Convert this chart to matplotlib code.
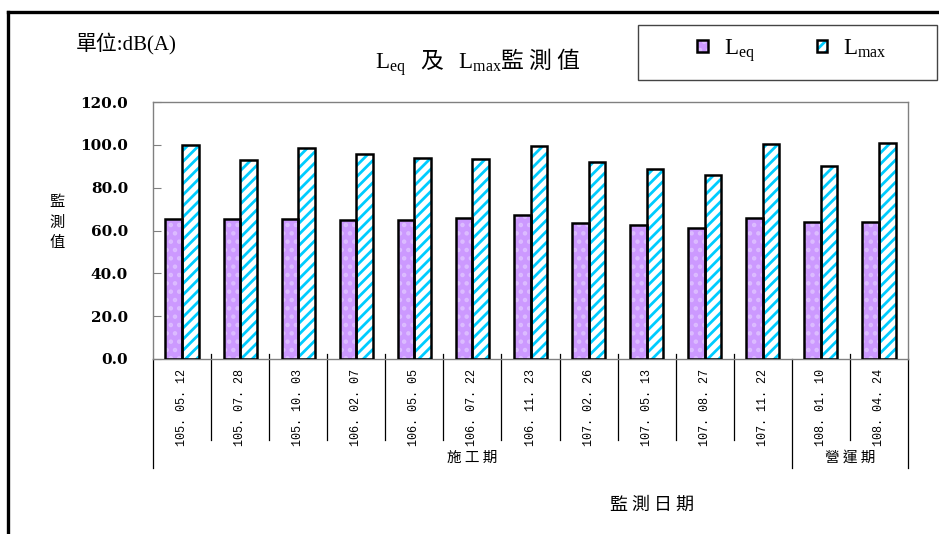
import matplotlib
matplotlib.use("Agg")
import matplotlib.pyplot as plt
import numpy as np
from matplotlib.patches import Rectangle
from matplotlib.legend_handler import HandlerTuple
from matplotlib.lines import Line2D

# ---- data ----
dates = ["105. 05. 12", "105. 07. 28", "105. 10. 03", "106. 02. 07", "106. 05. 05",
         "106. 07. 22", "106. 11. 23", "107. 02. 26", "107. 05. 13", "107. 08. 27",
         "107. 11. 22", "108. 01. 10", "108. 04. 24"]
leq = [65.6, 65.6, 65.6, 65.0, 65.0, 65.7, 67.3, 63.7, 62.7, 61.1, 65.7, 63.8, 64.2]
lmax = [99.8, 92.8, 98.7, 95.8, 93.8, 93.5, 99.5, 91.9, 88.8, 86.0, 100.5, 90.3, 100.8]
phases = ["施工期", "營運期"]
phase_counts = [11, 2]
yticks = [0, 20, 40, 60, 80, 100, 120]

plt.rcParams['mathtext.fontset'] = 'custom'
plt.rcParams['mathtext.rm'] = 'Liberation Serif'
plt.rcParams['mathtext.it'] = 'Liberation Serif:italic'
plt.rcParams['hatch.linewidth'] = 2.0

W, H = 939, 534
fig = plt.figure(figsize=(W / 100, H / 100), dpi=100)

def fx(px):
    return px / W

def fy(py):
    return 1 - py / H

ax = fig.add_axes([fx(153), fy(359), fx(908) - fx(153), fy(102) - fy(359)])

x = np.arange(len(dates))
w = 0.285
c_leq = '#CC99FF'
c_max = '#00CCFF'
c_dot = '#DCBCFF'

ax.bar(x - w / 2, leq, w, facecolor=c_leq, edgecolor=c_dot, hatch='..', linewidth=0, zorder=2)
ax.bar(x - w / 2, leq, w, fill=False, edgecolor='black', linewidth=1.8, zorder=3)
ax.bar(x + w / 2, lmax, w, facecolor='white', edgecolor=c_max, hatch='///', linewidth=0, zorder=2)
ax.bar(x + w / 2, lmax, w, fill=False, edgecolor='black', linewidth=1.8, zorder=3)

ax.set_xlim(-0.5, len(dates) - 0.5)
ax.set_ylim(0, 120)
ax.set_yticks(yticks)
ax.set_yticklabels([f"{v:.1f}" for v in yticks], family='DejaVu Serif', fontweight='bold', fontsize=11)
ax.tick_params(axis='y', direction='in', length=6, color='#808080', pad=18)
ax.set_xticks(x)
ax.set_xticklabels(dates, rotation=90, va='top', ha='center', family='Liberation Mono', fontsize=8.5)
ax.tick_params(axis='x', length=0, pad=7)
for s in ax.spines.values():
    s.set_color('#808080')
    s.set_linewidth(1.0)

# category separators and group lines
trans = ax.get_xaxis_transform()
bounds = np.cumsum([0] + phase_counts) - 0.5
for b in np.arange(-0.5, len(dates)):
    if b in bounds:
        continue
    ax.plot([b, b], [0.02, -0.315], transform=trans, color='black', lw=0.9, clip_on=False)
for b in bounds:
    ax.plot([b, b], [0.0, -0.424], transform=trans, color='black', lw=0.9, clip_on=False)
for i, p in enumerate(phases):
    cx = (bounds[i] + bounds[i + 1]) / 2
    ax.text(cx, -0.385, " ".join(p), transform=trans, ha='center', va='center',
            family='Noto Sans CJK TC', fontsize=10.5)

# texts
fig.text(fx(126), fy(44), "單位:dB(A)", ha='center', va='center',
         family=['Liberation Serif', 'Noto Sans CJK TC'], fontsize=15)
fig.text(fx(478), fy(62), r"$\mathrm{L_{eq}}$   及   $\mathrm{L_{max}}$監 測 值", ha='center', va='center',
         family='Noto Sans CJK TC', fontsize=16.5)
fig.text(fx(57), fy(222), "監\n測\n值", ha='center', va='center', family='Noto Sans CJK TC',
         fontsize=11, linespacing=1.3)
fig.text(fx(652), fy(505), "監 測 日 期", ha='center', va='center', family='Noto Sans CJK TC', fontsize=13)

# legend
h1 = (Rectangle((0, 0), 1, 1, facecolor=c_leq, edgecolor=c_dot, hatch='..', linewidth=0),
      Rectangle((0, 0), 1, 1, fill=False, edgecolor='black', linewidth=1.8))
h2 = (Rectangle((0, 0), 1, 1, facecolor='white', edgecolor=c_max, hatch='///', linewidth=0),
      Rectangle((0, 0), 1, 1, fill=False, edgecolor='black', linewidth=1.8))
fig.legend([h1, h2], [r"$\mathrm{L_{eq}}$", r"$\mathrm{L_{max}}$"],
           handler_map={tuple: HandlerTuple(ndivide=1, pad=0)},
           loc='center', bbox_to_anchor=(fx(792), fy(50)), ncol=2, frameon=False,
           handlelength=0.45, handleheight=0.45, handletextpad=0.7, columnspacing=2.7,
           prop={'size': 16.5})
fig.add_artist(Rectangle((fx(638), fy(80)), fx(937) - fx(638), fy(25) - fy(80),
                         transform=fig.transFigure, fill=False, edgecolor='#444444', lw=1.0))

# outer black frame (top and left)
fig.add_artist(Line2D([fx(8), 1.0], [fy(12), fy(12)], transform=fig.transFigure, color='black', lw=2.4))
fig.add_artist(Line2D([fx(8), fx(8)], [fy(12), 0.0], transform=fig.transFigure, color='black', lw=2.4))

fig.savefig("out.png", dpi=100)
